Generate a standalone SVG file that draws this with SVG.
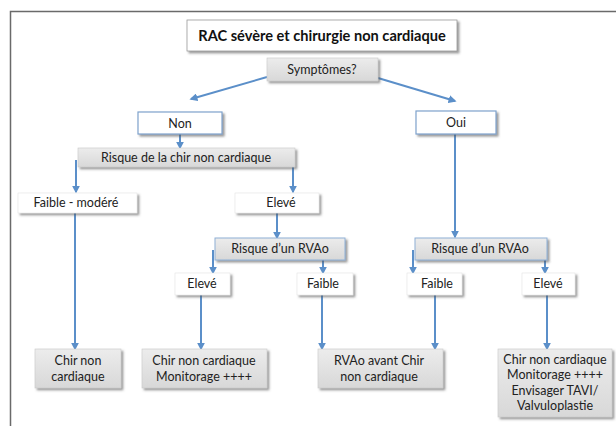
<svg xmlns="http://www.w3.org/2000/svg" width="616" height="426" viewBox="0 0 616 426">
<defs>
<linearGradient id="g" x1="0" y1="0" x2="0" y2="1">
<stop offset="0" stop-color="#ececec"/>
<stop offset="1" stop-color="#d8d8d8"/>
</linearGradient>
<filter id="sh" x="-10%" y="-20%" width="130%" height="160%">
<feDropShadow dx="2" dy="2" stdDeviation="1" flood-color="#555" flood-opacity="0.6"/>
</filter>
<marker id="ah" viewBox="0 0 10 10" refX="8" refY="5" markerWidth="4" markerHeight="4" orient="auto" markerUnits="strokeWidth">
<path d="M0,0 L10,5 L0,10 z" fill="#5b8fc9"/>
</marker>
</defs>
<style>
text{font-family:Lato,"Open Sans","Liberation Sans",sans-serif;font-size:12.5px;fill:#222;text-anchor:middle}
.t{font-weight:bold;font-size:14.6px;fill:#111}
.w{fill:#fff;stroke:#9a9a9a;stroke-width:0.8;filter:url(#sh)}
.b{fill:#fff;stroke:#7fa2cc;stroke-width:1.2;filter:url(#sh)}
.gr{fill:url(#g);stroke:#c8c8c8;stroke-width:0.6;filter:url(#sh)}
.grb{fill:url(#g);stroke:#8fb0d6;stroke-width:1;filter:url(#sh)}
.p{fill:#fff;stroke:#e4e4e4;stroke-width:0.6;filter:url(#sh)}
.c{fill:none;stroke:#5b8fc9;stroke-width:2;marker-end:url(#ah)}
</style>
<rect width="616" height="426" fill="#fff"/>
<path d="M10.5,426 V11.5 H616" fill="none" stroke="#6a6a6a" stroke-width="1.5"/>

<g id="connectors">
<path class="c" d="M267,77 L191,99"/>
<path class="c" d="M378,78 L455,101"/>
<path class="c" d="M180,134 V148"/>
<path class="c" d="M76,160 V192"/>
<path class="c" d="M293,160 V192"/>
<path class="c" d="M277,213 V238"/>
<path class="c" d="M455,134 V237"/>
<path class="c" d="M213,250 V273"/>
<path class="c" d="M323,250 V273"/>
<path class="c" d="M413,250 V273"/>
<path class="c" d="M545,250 V273"/>
<path class="c" d="M75,213 V349"/>
<path class="c" d="M201,295 V349"/>
<path class="c" d="M322,295 V349"/>
<path class="c" d="M435,295 V349"/>
<path class="c" d="M547,295 V349"/>
</g>

<g id="title"><rect class="w" x="187" y="20" width="270" height="31"/><text class="t" x="322" y="41">RAC sévère et chirurgie non cardiaque</text></g>
<g id="symptomes"><rect class="gr" x="267" y="58" width="111" height="23"/><text x="322" y="74">Symptômes?</text></g>
<g id="non"><rect class="b" x="138" y="112" width="84" height="22"/><text x="180" y="128">Non</text></g>
<g id="oui"><rect class="b" x="416" y="111" width="80" height="23"/><text x="456" y="127">Oui</text></g>
<g id="risque-chir"><rect class="gr" x="78" y="148" width="217" height="19"/><text x="186" y="162">Risque de la chir non cardiaque</text></g>
<g id="faible-modere"><rect class="p" x="18" y="193" width="119" height="20"/><text x="76" y="207">Faible - modéré</text></g>
<g id="eleve1"><rect class="p" x="235" y="193" width="84" height="20"/><text x="281" y="207">Elevé</text></g>
<g id="risque-rvao-1"><rect class="grb" x="215" y="238" width="130" height="22"/><text x="280" y="253">Risque d’un RVAo</text></g>
<g id="risque-rvao-2"><rect class="grb" x="415" y="238" width="132" height="22"/><text x="480" y="253">Risque d’un RVAo</text></g>
<g id="eleve2"><rect class="p" x="175" y="273" width="55" height="22"/><text x="202" y="288">Elevé</text></g>
<g id="faible1"><rect class="p" x="297" y="273" width="56" height="22"/><text x="323" y="288">Faible</text></g>
<g id="faible2"><rect class="p" x="407" y="273" width="55" height="22"/><text x="437" y="288">Faible</text></g>
<g id="eleve3"><rect class="p" x="522" y="273" width="53" height="22"/><text x="548" y="288">Elevé</text></g>
<g id="chir-non"><rect class="gr" x="35" y="349" width="86" height="39"/><text x="78" y="365">Chir non</text><text x="78" y="381">cardiaque</text></g>
<g id="chir-monit"><rect class="gr" x="142" y="349" width="125" height="39"/><text x="204" y="365">Chir non cardiaque</text><text x="204" y="381">Monitorage ++++</text></g>
<g id="rvao-avant"><rect class="gr" x="318" y="349" width="125" height="39"/><text x="379" y="365">RVAo avant Chir</text><text x="379" y="381">non cardiaque</text></g>
<g id="chir-tavi"><rect class="gr" x="498" y="349" width="114" height="68"/><text x="555" y="364">Chir non cardiaque</text><text x="555" y="379">Monitorage ++++</text><text x="555" y="395">Envisager TAVI/</text><text x="555" y="410">Valvuloplastie</text></g>
</svg>
